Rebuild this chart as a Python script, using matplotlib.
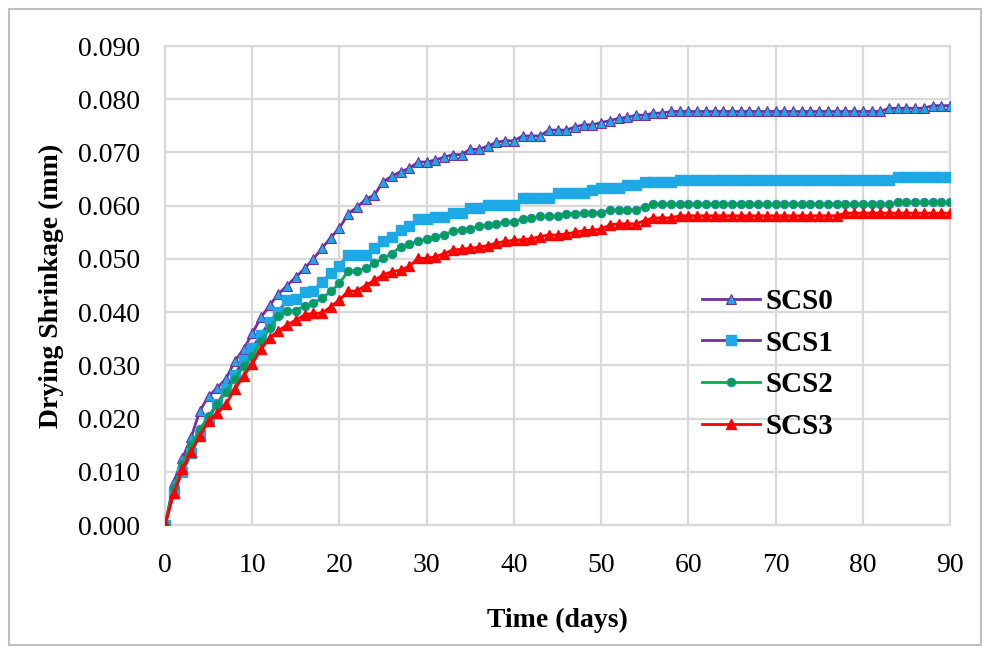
import matplotlib
matplotlib.use('Agg')
import matplotlib.pyplot as plt
from matplotlib.patches import Rectangle

#data (one point per day)
days = list(range(0, 91))

scs0 = [0.0, 0.0080, 0.0125, 0.0165, 0.0215, 0.0242, 0.0258, 0.0275, 0.0308, 0.0330,
        0.0360, 0.0390, 0.0413, 0.0434, 0.0450, 0.0466, 0.0482, 0.0500, 0.0520, 0.0540,
        0.0558, 0.0585, 0.0597, 0.0612, 0.0620, 0.0645, 0.0655, 0.0664, 0.0670, 0.0682,
        0.0682, 0.0686, 0.0691, 0.0696, 0.0696, 0.0706, 0.0706, 0.0712, 0.0719, 0.0722,
        0.0722, 0.0731, 0.0731, 0.0731, 0.0742, 0.0742, 0.0742, 0.0748, 0.0752, 0.0752,
        0.0756, 0.0760, 0.0764, 0.0766, 0.0770, 0.0770, 0.0774, 0.0774] \
       + [0.0777] * 25 + [0.0783] * 5 + [0.0788] * 3

scs1 = [0.0, 0.0060, 0.0100, 0.0135, 0.0170, 0.0200, 0.0228, 0.0255, 0.0282, 0.0310,
        0.0333, 0.0357, 0.0382, 0.0401, 0.0423, 0.0424, 0.0437, 0.0440, 0.0457, 0.0473,
        0.0487, 0.0508, 0.0508, 0.0508, 0.0520, 0.0533, 0.0542, 0.0555, 0.0562, 0.0575,
        0.0575, 0.0578, 0.0578, 0.0587, 0.0587, 0.0595, 0.0595, 0.0601, 0.0602, 0.0602,
        0.0602] \
       + [0.0614] * 4 + [0.0623] * 4 + [0.0630] + [0.0633] * 3 + [0.0639] * 2 \
       + [0.0645] * 4 + [0.0648] * 25 + [0.0654] * 7

scs2 = [0.0, 0.0070, 0.0115, 0.0150, 0.0180, 0.0205, 0.0228, 0.0250, 0.0275, 0.0298,
        0.0318, 0.0345, 0.0370, 0.0392, 0.0403, 0.0403, 0.0412, 0.0417, 0.0426, 0.0439,
        0.0454, 0.0478, 0.0478, 0.0482, 0.0492, 0.0501, 0.0510, 0.0523, 0.0528, 0.0533,
        0.0537, 0.0542, 0.0545, 0.0552, 0.0555, 0.0557, 0.0562, 0.0564, 0.0566, 0.0570,
        0.0570, 0.0575, 0.0577] \
       + [0.0580] * 3 + [0.0585] * 2 + [0.0587] * 3 + [0.0592] * 4 + [0.0598] \
       + [0.0603] * 28 + [0.0606] * 7

scs3 = [0.0, 0.0060, 0.0105, 0.0138, 0.0168, 0.0195, 0.0210, 0.0228, 0.0255, 0.0280,
        0.0303, 0.0330, 0.0352, 0.0365, 0.0376, 0.0385, 0.0395, 0.0398, 0.0398, 0.0410,
        0.0423, 0.0439, 0.0440, 0.0450, 0.0460, 0.0470, 0.0476, 0.0479, 0.0486, 0.0501,
        0.0501, 0.0504, 0.0510, 0.0517, 0.0518, 0.0520, 0.0522, 0.0525, 0.0530, 0.0533,
        0.0535, 0.0536, 0.0538, 0.0542, 0.0545, 0.0545, 0.0547, 0.0550, 0.0553, 0.0554,
        0.0556, 0.0564, 0.0566, 0.0566, 0.0566, 0.0572, 0.0577, 0.0577, 0.0577] \
       + [0.0581] * 19 + [0.0586] * 13

labels = ['SCS0', 'SCS1', 'SCS2', 'SCS3']
y_ticks = [0.0, 0.01, 0.02, 0.03, 0.04, 0.05, 0.06, 0.07, 0.08, 0.09]
x_ticks = [0, 10, 20, 30, 40, 50, 60, 70, 80, 90]

plt.rcParams['font.family'] = ['Liberation Serif', 'DejaVu Serif']

fig = plt.figure(figsize=(9.9, 6.5), dpi=100)
ax = fig.add_axes([0.1667, 0.1923, 0.7929, 0.7369])

#series
ax.plot(days, scs0, color='#7030A0', lw=2, marker='^', ms=7,
        mfc='#1CA9E6', mec='#7030A0', mew=0.8, label=labels[0], zorder=3)
ax.plot(days, scs1, color='#7030A0', lw=2, marker='s', ms=6.5,
        mfc='#1CA9E6', mec='#1CA9E6', label=labels[1], zorder=3)
ax.plot(days, scs2, color='#00B050', lw=2, marker='o', ms=6,
        mfc='#00A050', mec='#1C8FA8', mew=0.8, label=labels[2], zorder=3)
ax.plot(days, scs3, color='#FF0000', lw=2, marker='^', ms=7,
        mfc='#FF0000', mec='#FF0000', label=labels[3], zorder=3)

#axes look
ax.set_xlim(0, 90)
ax.set_ylim(0, 0.09)
ax.set_xticks(x_ticks)
ax.set_yticks(y_ticks)
ax.set_yticklabels(['%.3f' % v for v in y_ticks])
ax.grid(True, color='#D9D9D9', lw=1.6, zorder=0)
ax.set_axisbelow(True)
for s in ax.spines.values():
    s.set_color('#D9D9D9')
    s.set_linewidth(1.6)
ax.tick_params(axis='both', length=0, labelsize=20)
ax.tick_params(axis='y', pad=18)
ax.tick_params(axis='x', pad=20)

ax.set_xlabel('Time (days)', fontsize=20, fontweight='bold', labelpad=22)
ax.set_ylabel('Drying Shrinkage (mm)', fontsize=20, fontweight='bold', labelpad=10)

leg = ax.legend(loc='upper left', bbox_to_anchor=(0.665, 0.525), frameon=False,
                prop={'size': 21, 'weight': 'bold'}, handlelength=2.0,
                handletextpad=0.2, labelspacing=0.5, borderpad=0)

#outer border of the figure
fig.patches.append(Rectangle((0.009, 0.008), 0.982, 0.978, transform=fig.transFigure,
                             fill=False, edgecolor='#BFBFBF', lw=1.5))

plt.savefig('out.png', dpi=100)
